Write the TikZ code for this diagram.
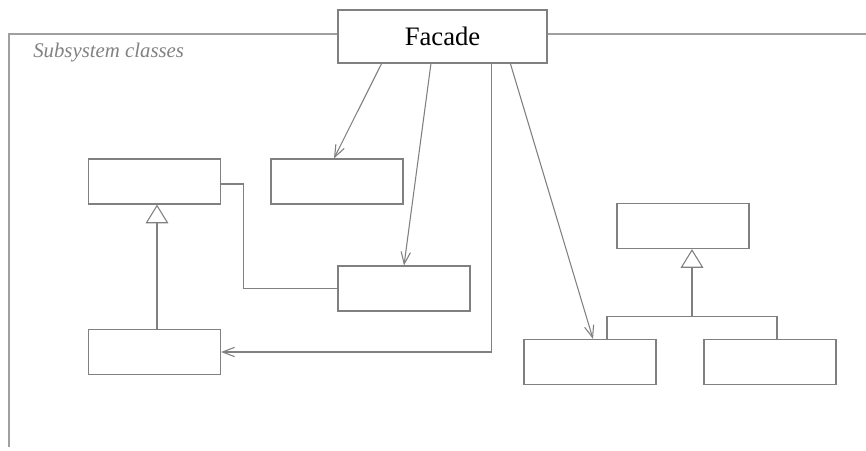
\documentclass[tikz,border=0pt]{standalone}
\usepackage{fontspec}
\setmainfont{Liberation Serif}
\usetikzlibrary{arrows.meta,calc}
\definecolor{lc}{RGB}{128,128,128}
\definecolor{fc}{RGB}{160,160,160}
\definecolor{tc}{RGB}{130,130,130}
\begin{document}
\begin{tikzpicture}[x=0.75pt,y=-0.75pt,
  cls/.style={draw=lc, line width=0.9pt, fill=white, inner sep=0pt, minimum width=99pt, minimum height=33.75pt},
  link/.style={draw=lc, line width=0.8pt},
  dep/.style={link, -{Straight Barb[length=9pt,width=7pt,line width=0.8pt]}},
  inh/.style={link, -{Triangle[open,fill=white,length=14pt,width=17pt,line width=0.8pt]}}
]
\useasboundingbox (0,0) rectangle (866,450);
\fill[white] (0,0) rectangle (866,450);
% frame
\coordinate (ftl) at (9,34);
\coordinate (fbl) at (9,447);
\coordinate (ftr) at (866,34);
\node[draw=lc, line width=0.9pt, fill=white, inner sep=0pt, minimum width=156.75pt, minimum height=39.75pt, font=\fontsize{20pt}{24pt}\selectfont] (fac) at (442.5,36.5) {Facade};
\draw[draw=fc, line width=1.1pt] (fac.west |- ftl) -- (ftl) -- (fbl);
\draw[draw=fc, line width=1.1pt] (fac.east |- ftl) -- (ftr);
\node[anchor=base west, text=tc, font=\fontsize{15.6pt}{18pt}\itshape\selectfont, inner sep=0pt] (lbl) at (33,57) {Subsystem classes};
% classes
\node[cls] (A) at (154.5,181.5) {};
\node[cls] (B) at (337,181.5) {};
\node[cls] (C) at (404,288.5) {};
\node[cls] (D) at (154.5,352) {};
\node[cls] (G) at (683,226) {};
\node[cls] (E) at (590,362) {};
\node[cls] (F) at (770,362) {};
% Facade dependencies
\draw[dep] ($(fac.south west)!0.21!(fac.south east)$) -- ($(B.north)+(-3,0)$);
\draw[dep] ($(fac.south west)!0.445!(fac.south east)$) -- (C.north);
\draw[dep] ($(fac.south west)!0.732!(fac.south east)$) |- (D.east);
\draw[dep] ($(fac.south west)!0.823!(fac.south east)$) -- ($(E.north)+(3,0)$);
% association A -- C
\draw[link] ($(A.east)+(0,2.5)$) -- ++(22,0) |- (C.west);
% inheritance left
\draw[inh] ($(D.north)+(2.5,0)$) -- ($(A.south)+(2.5,0)$);
% inheritance right
\coordinate (jn) at ($(G.south)+(9,67)$);
\draw[link] ($(E.north)+(17,0)$) |- (jn) -| ($(F.north)+(7,0)$);
\draw[inh] (jn) -- ($(G.south)+(9,0)$);
\end{tikzpicture}
\end{document}
